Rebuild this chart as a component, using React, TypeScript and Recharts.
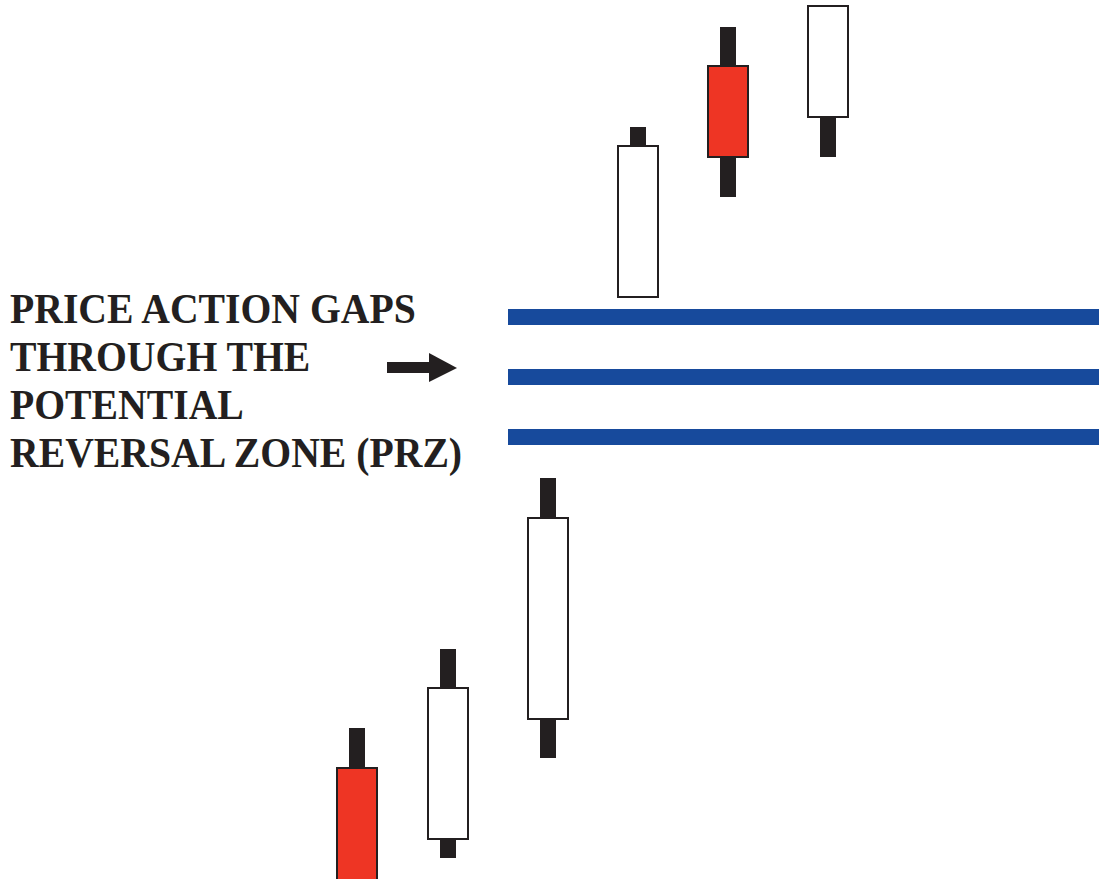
import { Bar, ComposedChart, ReferenceLine, XAxis, YAxis } from "recharts";

// bar time (in bar units) and OHLC prices
const sessions = [3.57, 4.48, 5.48, 6.38, 7.28, 8.28];
const opens = [111.1, 104.0, 116.0, 158.2, 181.3, 176.2];
const highs = [115.1, 123.0, 140.1, 175.2, 185.2, 187.3];
const lows = [99.5, 102.1, 112.1, 158.2, 168.2, 172.2];
const closes = [99.7, 119.1, 136.1, 173.3, 172.2, 187.3];

// potential reversal zone levels
const przLevels = [156.2, 150.2, 144.2];
const przStart = 5.08;
const przEnd = 10.99;

const caption = ["PRICE ACTION GAPS", "THROUGH THE", "POTENTIAL", "REVERSAL ZONE (PRZ)"];

const candles = sessions.map((t, i) => ({
  t,
  open: opens[i],
  high: highs[i],
  low: lows[i],
  close: closes[i]
}));

const INK = "#231f20";
const RED = "#ee3524";
const BLUE = "#174a9c";

function Candle(props: any) {
  const { x, y, width, height, payload } = props;
  if (payload == null || height == null) return null;
  const { open, close, high, low } = payload;
  const perUnit = height / (high - low);
  const top = y + (high - Math.max(open, close)) * perUnit;
  const bottom = y + (high - Math.min(open, close)) * perUnit;
  const cx = x + width / 2;
  const wick = 16;
  return (
    <g>
      <rect x={cx - wick / 2} y={y} width={wick} height={height} fill={INK} />
      <rect
        x={x + 1}
        y={top}
        width={width - 2}
        height={bottom - top}
        fill={close < open ? RED : "#ffffff"}
        stroke={INK}
        strokeWidth={2}
      />
    </g>
  );
}

export default function App() {
  return (
    <div style={{ position: "fixed", left: 0, top: 0, width: 1100, height: 879, background: "#fff" }}>
      <ComposedChart
        width={1100}
        height={879}
        data={candles}
        margin={{ top: 0, right: 0, bottom: 0, left: 0 }}
        style={{ overflow: "visible" }}
      >
        <XAxis dataKey="t" type="number" domain={[0, 11]} hide allowDataOverflow />
        <YAxis type="number" domain={[100, 187.9]} hide allowDataOverflow />
        {przLevels.map((lvl) => (
          <ReferenceLine
            key={lvl}
            segment={[
              { x: przStart, y: lvl },
              { x: przEnd, y: lvl }
            ]}
            stroke={BLUE}
            strokeWidth={16}
            ifOverflow="visible"
          />
        ))}
        <Bar
          dataKey={(d: any) => [d.low, d.high]}
          barSize={42}
          shape={<Candle />}
          isAnimationActive={false}
        />
      </ComposedChart>
      <svg width={1100} height={879} style={{ position: "absolute", left: 0, top: 0, pointerEvents: "none" }}>
        <g transform="translate(10,0) scale(0.945,1)">
          {caption.map((line, i) => (
            <text
              key={line}
              x={0}
              y={323 + i * 48}
              fontFamily="'Liberation Serif', 'Times New Roman', serif"
              fontWeight="bold"
              fontSize={42}
              fill={INK}
            >
              {line}
            </text>
          ))}
        </g>
        <rect x={387} y={362} width={43} height={11} fill={INK} />
        <polygon points="429,353 457,368 429,382" fill={INK} />
      </svg>
    </div>
  );
}
